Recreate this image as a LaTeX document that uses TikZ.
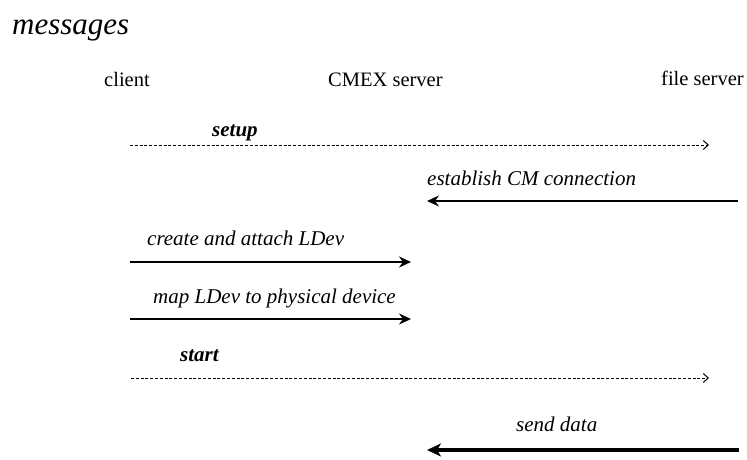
\documentclass[tikz,border=0pt]{standalone}
\usepackage{fontspec}
\setmainfont{Liberation Serif}
\usetikzlibrary{arrows.meta}
\tikzset{
  hdr/.style={font=\fontsize{20.5}{22}\selectfont, inner sep=0pt, anchor=base west},
  lbl/.style={font=\fontsize{21}{23}\selectfont\itshape, inner sep=0pt, anchor=base west},
  blbl/.style={font=\fontsize{21}{23}\selectfont\bfseries\itshape, inner sep=0pt, anchor=base west},
  msg/.style={line width=1.5pt, -{Stealth[length=12pt,width=11pt,inset=4pt]}},
  big/.style={line width=3.6pt, -{Stealth[length=14pt,width=13pt,inset=4pt]}},
  dot/.style={line width=1pt, dash pattern=on 3pt off 1.8pt, -{Straight Barb[length=5pt,width=9pt,line width=1pt]}}
}
\begin{document}
\begin{tikzpicture}[x=1pt,y=-1pt]
\useasboundingbox (0,0) rectangle (747,460);
\node[font=\fontsize{31}{33}\selectfont\itshape, inner sep=0pt, anchor=base west] (title) at (12,35) {messages};
\node[hdr] (client) at (104,87) {client};
\node[hdr] (cmex) at (328,87) {CMEX server};
\node[hdr] (fs) at (661,85) {file server};
% setup
\coordinate (s1) at (130,145);
\coordinate (s2) at (709,145);
\draw[dot] (s1) -- (s2);
\node[blbl] (setup) at (212,136) {setup};
% establish
\coordinate (e1) at (738,201);
\coordinate (e2) at (427,201);
\draw[msg] (e1) -- (e2);
\node[lbl] (est) at (427,185) {establish CM connection};
% create
\coordinate (c1) at (130,262);
\coordinate (c2) at (411,262);
\draw[msg] (c1) -- (c2);
\node[lbl] (create) at (147,245) {create and attach LDev};
% map
\coordinate (m1) at (130,319);
\coordinate (m2) at (411,319);
\draw[msg] (m1) -- (m2);
\node[lbl] (map) at (153,303) {map LDev to physical device};
% start
\coordinate (t1) at (131,378);
\coordinate (t2) at (709,378);
\draw[dot] (t1) -- (t2);
\node[blbl] (start) at (180,361) {start};
% send data
\coordinate (d1) at (739,450);
\coordinate (d2) at (427,450);
\draw[big] (d1) -- (d2);
\node[lbl] (send) at (516,431) {send data};
\end{tikzpicture}
\end{document}
